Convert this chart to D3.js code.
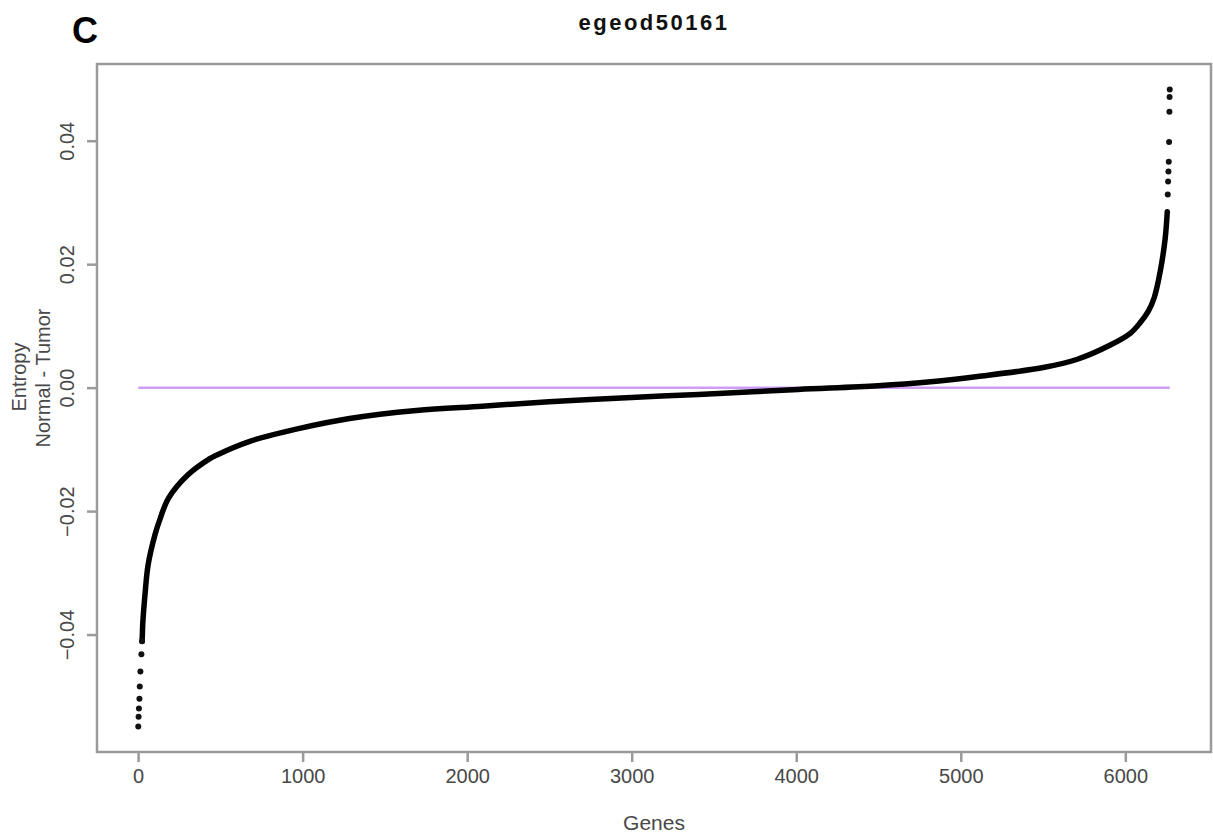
<!DOCTYPE html>
<html>
<head>
<meta charset="utf-8">
<script src="https://cdn.jsdelivr.net/npm/d3@7"></script>
<style>
  body { margin: 0; background: #fff; }
  svg text { font-family: "Liberation Sans", Arial, sans-serif; }
</style>
</head>
<body>
<div id="chart"></div>
<script>
// sorted entropy difference per gene (rank, value)
const ranks = [1, 3, 5, 8, 10, 14, 20, 24, 26, 28, 42, 61, 103, 133, 185, 300, 436, 479,
  679, 982, 1285, 1691, 2091, 2497, 3000, 3406, 4012, 4497, 4800, 5103, 5509, 5709, 5909, 6030,
  6090, 6140, 6176, 6212, 6242, 6255, 6258, 6260, 6262, 6264, 6266, 6268, 6269, 6270];
const values = [-0.0549, -0.0533, -0.0520, -0.0504, -0.0484, -0.0460, -0.0432, -0.0411, -0.0400,
  -0.0384, -0.0335, -0.0287, -0.0238, -0.0213, -0.0179, -0.0142, -0.0115,
  -0.0109, -0.0087, -0.0066, -0.0050, -0.0037, -0.0030, -0.0023, -0.0016, -0.0011, -0.0003,
  0.0003, 0.0009, 0.0018, 0.0033, 0.0046, 0.0069, 0.0088, 0.0105, 0.0124, 0.0146, 0.0188,
  0.0241, 0.0285, 0.0313, 0.0334, 0.0350, 0.0366, 0.0398, 0.0447, 0.0471, 0.0483];
// genes drawn as separate dots in the sparse tails
const tailRanks = [1, 3, 5, 8, 10, 14, 20, 24, 6258, 6260, 6262, 6264, 6266, 6268, 6269, 6270];

const xTicks = [0, 1000, 2000, 3000, 4000, 5000, 6000];
const yTicks = [-0.04, -0.02, 0.00, 0.02, 0.04];
const zeroLine = [[1, 0], [6270, 0]];

const width = 1213, height = 836;
const margin = { top: 64, right: 2, bottom: 84, left: 97 };

const points = ranks.map((r, i) => ({ rank: r, value: values[i] }));

const svg = d3.select("#chart").append("svg")
  .attr("width", width).attr("height", height);

// R style: 4% extension of the data range
const xExt = d3.extent(ranks), yExt = d3.extent(values);
const xPad = (xExt[1] - xExt[0]) * 0.04, yPad = (yExt[1] - yExt[0]) * 0.04;

const x = d3.scaleLinear()
  .domain([xExt[0] - xPad, xExt[1] + xPad])
  .range([margin.left, width - margin.right]);
const y = d3.scaleLinear()
  .domain([yExt[0] - yPad, yExt[1] + yPad])
  .range([height - margin.bottom, margin.top]);

const axisColor = "#9a9a9a";
const textColor = "#484848";

// zero reference line
svg.append("path")
  .attr("d", d3.line().x(d => x(d[0])).y(d => y(d[1]))(zeroLine))
  .attr("stroke", "#cf9cf7").attr("stroke-width", 2.5).attr("fill", "none");

// dense part of the curve
const dense = points.filter(d => d.rank >= 24 && d.rank <= 6255);
svg.append("path")
  .attr("d", d3.line().x(d => x(d.rank)).y(d => y(d.value))
    .curve(d3.curveCatmullRom.alpha(0.5))(dense))
  .attr("stroke", "#000").attr("stroke-width", 5.5).attr("fill", "none")
  .attr("stroke-linecap", "round").attr("stroke-linejoin", "round");

svg.append("g").selectAll("circle")
  .data(points.filter(d => tailRanks.includes(d.rank)))
  .join("circle")
  .attr("cx", d => x(d.rank)).attr("cy", d => y(d.value))
  .attr("r", 3).attr("fill", "#111");

// box
svg.append("rect")
  .attr("x", margin.left).attr("y", margin.top)
  .attr("width", width - margin.left - margin.right)
  .attr("height", height - margin.top - margin.bottom)
  .attr("fill", "none").attr("stroke", axisColor).attr("stroke-width", 2.5);

// x axis
const gx = svg.append("g")
  .attr("transform", `translate(0,${height - margin.bottom + 1})`)
  .call(d3.axisBottom(x).tickValues(xTicks).tickFormat(d3.format("d")).tickSize(9).tickPadding(7))
  .call(g => g.select(".domain").remove());
gx.selectAll("line").attr("stroke", axisColor).attr("stroke-width", 2.5);
gx.selectAll("text").attr("fill", textColor).style("font-size", "20px");

// y axis, labels rotated like R's default las=0
const gy = svg.append("g")
  .attr("transform", `translate(${margin.left - 1},0)`)
  .call(d3.axisLeft(y).tickValues(yTicks).tickFormat(d3.format(".2f")).tickSize(9))
  .call(g => g.select(".domain").remove());
gy.selectAll("line").attr("stroke", axisColor).attr("stroke-width", 2.5);
gy.selectAll("text")
  .attr("x", null).attr("dy", null)
  .attr("transform", "translate(-27,0) rotate(-90)")
  .attr("text-anchor", "middle")
  .attr("dominant-baseline", "middle")
  .attr("fill", textColor).style("font-size", "20px")
  .text(d => d < 0 ? "\u2212" + d3.format(".2f")(-d) : d3.format(".2f")(d));

// axis titles
svg.append("text")
  .attr("transform", "translate(21,377) rotate(-90)")
  .attr("text-anchor", "middle").attr("dominant-baseline", "middle")
  .attr("fill", textColor).style("font-size", "20px")
  .text("Entropy");
svg.append("text")
  .attr("transform", "translate(45,378) rotate(-90)")
  .attr("text-anchor", "middle").attr("dominant-baseline", "middle")
  .attr("fill", textColor).style("font-size", "20px")
  .text("Normal - Tumor");
svg.append("text")
  .attr("x", (margin.left + width - margin.right) / 2).attr("y", 830)
  .attr("text-anchor", "middle")
  .attr("fill", textColor).style("font-size", "21px")
  .text("Genes");

// title and panel letter
svg.append("text")
  .attr("x", (margin.left + width - margin.right) / 2).attr("y", 30)
  .attr("text-anchor", "middle")
  .attr("fill", "#111").style("font-size", "22px").style("font-weight", "bold")
  .style("letter-spacing", "2.5px")
  .text("egeod50161");
svg.append("text")
  .attr("x", 72).attr("y", 43)
  .attr("fill", "#000").style("font-size", "36px").style("font-weight", "bold")
  .text("C");
</script>
</body>
</html>
